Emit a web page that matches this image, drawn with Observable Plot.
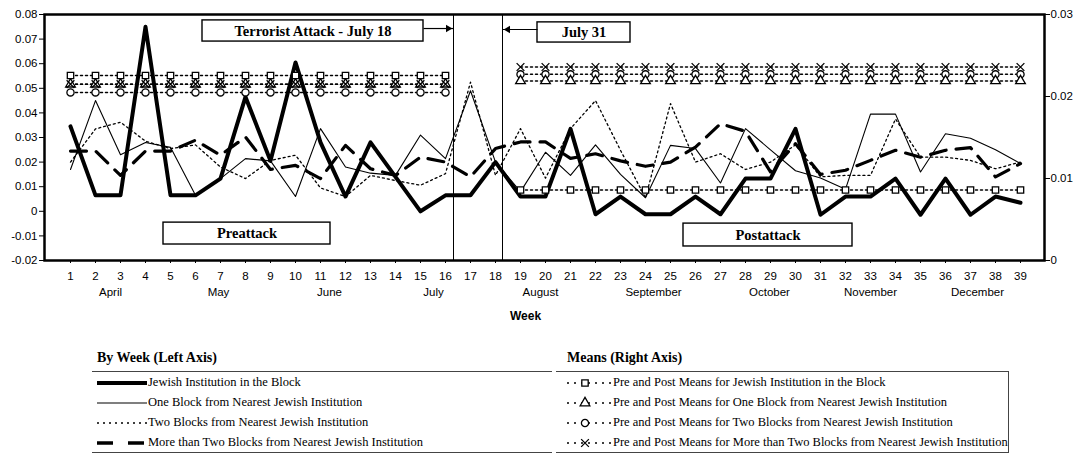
<!DOCTYPE html>
<html>
<head>
<meta charset="utf-8">
<script src="https://cdn.jsdelivr.net/npm/d3@7"></script>
<script src="https://cdn.jsdelivr.net/npm/@observablehq/plot@0.6"></script>
<style>
  body { margin: 0; background: #fff; }
  #wrap { position: relative; width: 1083px; height: 454px; overflow: hidden; background: #fff; }
  #chart { position: absolute; left: 0; top: 0; }
  .lg { position: absolute; font-family: "Liberation Serif", "Times New Roman", serif; color: #000; white-space: nowrap; }
  .ttl { font-size: 14px; font-weight: bold; }
  .ent { font-size: 12.5px; line-height: 14px; }
  .hl { position: absolute; height: 1px; background: #444; }
  .vl { position: absolute; width: 1px; background: #444; }
  .smp { position: absolute; overflow: visible; }
</style>
</head>
<body>
<div id="wrap"><div id="chart"></div></div>
<script>
// ---------------- data ----------------
const weeks = [1,2,3,4,5,6,7,8,9,10,11,12,13,14,15,16,17,18,19,20,21,22,23,24,25,26,27,28,29,30,31,32,33,34,35,36,37,38,39];

// By week (left axis)
const inBlock = [0.0345,0.0065,0.0065,0.075,0.0065,0.0065,0.0133,0.0465,0.0205,0.0605,
  0.028,0.006,0.028,0.014,0.0,0.0065,0.0065,0.020,0.006,0.006,
  0.0335,-0.0012,0.006,-0.0012,-0.0012,0.006,-0.0012,0.0133,0.0133,0.0335,
  -0.0014,0.006,0.006,0.0133,-0.0014,0.0133,-0.0014,0.006,0.0035];
const oneBlock = [0.017,0.045,0.023,0.028,0.026,0.0065,0.0133,0.0214,0.0205,0.006,
  0.0336,0.018,0.0155,0.0146,0.031,0.0214,0.049,0.020,0.008,0.024,
  0.0146,0.027,0.015,0.0055,0.0268,0.0255,0.0115,0.0336,0.025,0.0165,
  0.0135,0.009,0.0395,0.0395,0.016,0.0315,0.0297,0.025,0.0194];
const twoBlocks = [0.020,0.0335,0.0362,0.0285,0.0255,0.027,0.018,0.0133,0.0207,0.0228,
  0.0095,0.006,0.0146,0.0125,0.0106,0.0153,0.0525,0.0146,0.0336,0.0135,
  0.0336,0.045,0.0248,0.0055,0.0438,0.020,0.0234,0.017,0.020,0.027,
  0.014,0.0146,0.0146,0.0375,0.022,0.022,0.0207,0.0173,0.020];
const moreThanTwo = [0.0245,0.0245,0.0146,0.0245,0.0245,0.0289,0.0228,0.0302,0.017,0.0187,
  0.0133,0.0268,0.0173,0.0146,0.022,0.020,0.014,0.0255,0.0282,0.0282,
  0.0215,0.0234,0.0205,0.0183,0.020,0.0261,0.0356,0.0325,0.016,0.0275,
  0.015,0.0167,0.0207,0.0248,0.022,0.0248,0.0259,0.014,0.0194];

const seriesNames = [
  "Jewish Institution in the Block",
  "One Block from Nearest Jewish Institution",
  "Two Blocks from Nearest Jewish Institution",
  "More than Two Blocks from Nearest Jewish Institution"
];

// Means (right axis)
const meanNames = [
  "Pre and Post Means for Jewish Institution in the Block",
  "Pre and Post Means for One Block from Nearest Jewish Institution",
  "Pre and Post Means for Two Blocks from Nearest Jewish Institution",
  "Pre and Post Means for More than Two Blocks from Nearest Jewish Institution"
];
const meanSymbols = ["square", "triangle", "circle", "times"];
const preMeans  = [0.02256, 0.0215, 0.0205, 0.0215];
const postMeans = [0.0086, 0.0219, 0.0227, 0.0236];
const preWeeks  = [1,2,3,4,5,6,7,8,9,10,11,12,13,14,15,16];
const postWeeks = [19,20,21,22,23,24,25,26,27,28,29,30,31,32,33,34,35,36,37,38,39];

// Axis ticks and labels
const leftTicks  = [-0.02,-0.01,0,0.01,0.02,0.03,0.04,0.05,0.06,0.07,0.08];
const rightTicks = [0, 0.01, 0.02, 0.03];
const months    = ["April","May","June","July","August","September","October","November","December"];
const monthWeek = [2.6, 6.92, 11.36, 15.52, 19.8, 24.32, 28.96, 33.0, 37.28];

// Annotations (in data units: week, left-axis value)
const eventWeeks = [16.32, 18.28];
const boxes = [
  {label: "Terrorist Attack - July 18", x1: 6.28, x2: 15.12, y1: 0.0690, y2: 0.0776},
  {label: "July 31", x1: 19.68, x2: 23.4, y1: 0.0686, y2: 0.0768},
  {label: "Preattack", x1: 4.72, x2: 11.4, y1: -0.0135, y2: -0.0046},
  {label: "Postattack", x1: 25.52, x2: 32.28, y1: -0.0143, y2: -0.0050}
];
const arrows = [
  {x1: 15.12, x2: 16.32, y: 0.0743, dir: 1},
  {x1: 19.68, x2: 18.28, y: 0.0739, dir: -1}
];

// ---------------- build ----------------
const toLeft = r => -0.02 + r / 0.03 * 0.1;
const fromLeft = l => (l + 0.02) / 0.1 * 0.03;

const meanRows = [];
meanNames.forEach((s, i) => {
  preWeeks.forEach(w => meanRows.push({week: w, v: toLeft(preMeans[i]), series: s, key: s + "-pre", order: i}));
  postWeeks.forEach(w => meanRows.push({week: w, v: toLeft(postMeans[i]), series: s, key: s + "-post", order: i}));
});
const dotOrder = [2, 1, 3, 0];
const meanDots = dotOrder.flatMap(o => meanRows.filter(d => d.order === o));

const fmtL = d => Math.abs(d) < 1e-9 ? "0" : d.toFixed(2);
const fmtR = d => { const r = Math.round(fromLeft(d) * 100) / 100; return r === 0 ? "0" : r.toFixed(2); };

const serif = "Liberation Serif, Times New Roman, serif";

const chart = Plot.plot({
  width: 1083,
  height: 330,
  marginLeft: 44,
  marginRight: 39,
  marginTop: 14,
  marginBottom: 70,
  style: {fontFamily: "Liberation Sans, Arial, sans-serif", fontSize: "11.5px", background: "white", color: "black"},
  x: {domain: [-0.04, 39.96], label: null},
  y: {domain: [-0.02, 0.08], label: null},
  symbol: {domain: meanNames, range: meanSymbols},
  marks: [
    // annotation boxes
    Plot.rect(boxes, {x1: "x1", x2: "x2", y1: "y1", y2: "y2", fill: "white", stroke: "black", strokeWidth: 1.4}),
    Plot.text(boxes, {x: d => (d.x1 + d.x2) / 2, y: d => (d.y1 + d.y2) / 2, text: "label",
      fontFamily: serif, fontWeight: "bold", fontSize: 14.5, fill: "black"}),
    Plot.ruleX(eventWeeks, {stroke: "black", strokeWidth: 1}),
    Plot.link(arrows, {x1: "x1", x2: "x2", y1: "y", y2: "y", stroke: "black", strokeWidth: 1.2}),
    Plot.dot(arrows.filter(d => d.dir > 0), {x: "x2", y: "y", symbol: "triangle2", r: 3.5, rotate: 90, dx: -5.4, fill: "black", stroke: "none"}),
    Plot.dot(arrows.filter(d => d.dir < 0), {x: "x2", y: "y", symbol: "triangle2", r: 3.5, rotate: -90, dx: 5.4, fill: "black", stroke: "none"}),

    // weekly series (left axis)
    Plot.line(weeks, {x: weeks, y: twoBlocks, stroke: "black", strokeWidth: 1.3, strokeDasharray: "2,3"}),
    Plot.line(weeks, {x: weeks, y: oneBlock, stroke: "black", strokeWidth: 1.1}),
    Plot.line(weeks, {x: weeks, y: moreThanTwo, stroke: "black", strokeWidth: 3.2, strokeDasharray: "16,10"}),
    Plot.line(weeks, {x: weeks, y: inBlock, stroke: "black", strokeWidth: 4}),

    // means (right axis)
    Plot.line(meanRows, {x: "week", y: "v", z: "key", stroke: "black", strokeWidth: 1.5, strokeDasharray: "2,3"}),
    Plot.dot(meanDots, {x: "week", y: "v", symbol: "series", r: 3.6, fill: "white", stroke: "black", strokeWidth: 1.3}),

    // frame and axes
    Plot.frame({stroke: "black", strokeWidth: 2.5}),
    Plot.axisY({anchor: "left", ticks: leftTicks, tickFormat: fmtL, tickSize: 5, tickPadding: 2, label: null}),
    Plot.axisY({anchor: "right", ticks: rightTicks.map(toLeft), tickFormat: fmtR, tickSize: 5, tickPadding: 1, label: null}),
    Plot.axisX({ticks: weeks, tickFormat: d => String(d), tickSize: 3, tickPadding: 8, label: null}),
    Plot.text(months, {x: monthWeek, text: months, frameAnchor: "bottom", dy: 35, fill: "black"}),
    Plot.text(["Week"], {x: [19.2], text: d => d, frameAnchor: "bottom", dy: 59, fontWeight: "bold", fontSize: 12, fill: "black"})
  ]
});
document.getElementById("chart").appendChild(chart);

// ---------------- legend (below the SVG) ----------------
const wrap = document.getElementById("wrap");
function add(html) { wrap.insertAdjacentHTML("beforeend", html); }

const rowY = [383, 403, 423, 443];

// left legend
add(`<div class="lg ttl" style="left:97px;top:350px;">By Week (Left Axis)</div>`);
add(`<div class="hl" style="left:92px;top:371px;width:460px;"></div>`);
add(`<div class="hl" style="left:92px;top:452px;width:460px;"></div>`);
const leftStyles = [
  `stroke-width="4"`,
  `stroke-width="1.1"`,
  `stroke-width="1.3" stroke-dasharray="2,4"`,
  `stroke-width="3.5" stroke-dasharray="16,15"`
];
seriesNames.forEach((s, i) => {
  add(`<svg class="smp" width="54" height="10" style="left:95px;top:${rowY[i] - 5}px;"><line x1="2" y1="5" x2="52" y2="5" stroke="black" ${leftStyles[i]}/></svg>`);
  add(`<div class="lg ent" style="left:148px;top:${rowY[i] - 8}px;">${s}</div>`);
});

// right legend
add(`<div class="lg ttl" style="left:567px;top:350px;">Means (Right Axis)</div>`);
add(`<div class="hl" style="left:556px;top:371px;width:453px;"></div>`);
add(`<div class="hl" style="left:556px;top:452px;width:453px;"></div>`);
add(`<div class="vl" style="left:1008px;top:371px;height:82px;"></div>`);
meanNames.forEach((s, i) => {
  const sym = d3.symbol(d3[{square: "symbolSquare", triangle: "symbolTriangle", circle: "symbolCircle", times: "symbolTimes"}[meanSymbols[i]]], Math.PI * 3.6 * 3.6)();
  add(`<svg class="smp" width="50" height="12" style="left:564px;top:${rowY[i] - 6}px;"><line x1="3" y1="6" x2="48" y2="6" stroke="black" stroke-width="1.6" stroke-dasharray="2,5"/><path d="${sym}" transform="translate(21,6)" fill="white" stroke="black" stroke-width="1.3"/></svg>`);
  add(`<div class="lg ent" style="left:613px;top:${rowY[i] - 8}px;">${s}</div>`);
});
</script>
</body>
</html>
